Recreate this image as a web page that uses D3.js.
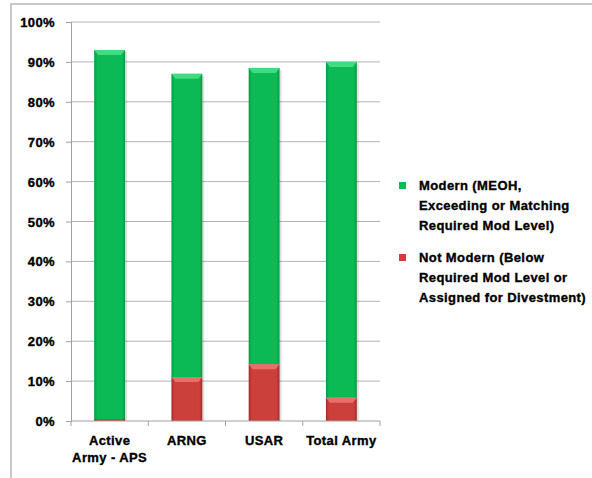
<!DOCTYPE html>
<html><head><meta charset="utf-8">
<script src="https://cdn.jsdelivr.net/npm/d3@7"></script>
<style>
body{margin:0;background:#fff;}
text{font-family:"Liberation Sans","Arial",sans-serif;font-weight:bold;fill:#000;stroke:#000;stroke-width:0.35px;letter-spacing:0.4px;}
</style></head>
<body><svg id="c" width="592" height="478"></svg>
<script>
const categories = ["Active Army - APS", "ARNG", "USAR", "Total Army"];
const categoryLines = [["Active", "Army - APS"], ["ARNG"], ["USAR"], ["Total Army"]];
const notModern = [0.5, 11, 14.2, 5.8];
const modern = [92.5, 76, 74.3, 84.2];
const yTicks = [0, 10, 20, 30, 40, 50, 60, 70, 80, 90, 100];
const seriesNames = ["Modern (MEOH, Exceeding or Matching Required Mod Level)", "Not Modern (Below Required Mod Level or Assigned for Divestment)"];
const legendLines = [["Modern (MEOH,", "Exceeding or Matching", "Required Mod Level)"], ["Not Modern (Below", "Required Mod Level or", "Assigned for Divestment)"]];

const svg = d3.select("#c");
// chart frame
svg.append("path").attr("d","M11,478 V4 H592").attr("fill","none").attr("stroke","#c8c8c8").attr("stroke-width",2);

const x = d3.scaleBand().domain(categories).range([71, 380]).paddingInner(0.6).paddingOuter(0.3);
const band = d3.scaleBand().domain(categories).range([71, 380]);
const y = d3.scaleLinear().domain([0, 100]).range([421, 22]);

// gridlines
svg.append("g").selectAll("line").data(yTicks.filter(d=>d>0)).join("line")
  .attr("x1",71).attr("x2",380).attr("y1",d=>y(d)).attr("y2",d=>y(d))
  .attr("stroke","#b4b4b4").attr("stroke-width",1);

const yAxis = svg.append("g").attr("transform","translate(71,0)")
  .call(d3.axisLeft(y).tickValues(yTicks).tickFormat(d=>d+"%").tickSize(5).tickPadding(11));
yAxis.select(".domain").attr("stroke","#a0a0a0");
yAxis.selectAll(".tick line").attr("stroke","#a0a0a0");
yAxis.selectAll("text").style("font-size","13px").attr("dy","0.35em").attr("font-family",null);

// defs gradients
const defs = svg.append("defs");
function grad(id, edge, mid){
  const g = defs.append("linearGradient").attr("id",id).attr("x1","0").attr("x2","1").attr("y1","0").attr("y2","0");
  g.append("stop").attr("offset","0").attr("stop-color",edge);
  g.append("stop").attr("offset","0.1").attr("stop-color",mid);
  g.append("stop").attr("offset","0.9").attr("stop-color",mid);
  g.append("stop").attr("offset","1").attr("stop-color",edge);
}
grad("gGreen","#079a45","#0bba55");
grad("gRed","#a52a28","#cc403c");

const stackData = categories.map((c,i)=>({c, nm:notModern[i], m:modern[i]}));
const segs = [];
stackData.forEach(d=>{
  segs.push({c:d.c, y0:0, y1:d.nm, fill:"url(#gRed)", hi:"#e8706a"});
  segs.push({c:d.c, y0:d.nm, y1:d.nm+d.m, fill:"url(#gGreen)", hi:"#3fdc82"});
});
const bars = svg.append("g");
bars.selectAll("rect").data(segs).join("rect")
  .attr("x",d=>x(d.c)).attr("width",x.bandwidth())
  .attr("y",d=>y(d.y1)).attr("height",d=>y(d.y0)-y(d.y1))
  .attr("fill",d=>d.fill);
// top bevel highlight
bars.selectAll("path.hi").data(segs.filter(d=>y(d.y0)-y(d.y1)>6)).join("path").attr("class","hi")
  .attr("d",d=>{const x0=x(d.c), w=x.bandwidth(), t=y(d.y1), h=5;
    return `M${x0},${t} H${x0+w} L${x0+w-4},${t+h} H${x0+4} Z`;})
  .attr("fill",d=>d.hi);
// shadow at right
bars.selectAll("rect.sh").data(stackData).join("rect").attr("class","sh")
  .attr("x",d=>x(d.c)+x.bandwidth()).attr("width",2)
  .attr("y",d=>y(d.nm+d.m)+2).attr("height",d=>y(0)-y(d.nm+d.m)-2)
  .attr("fill","#000").attr("opacity",0.12);

// x axis
const xg = svg.append("g");
xg.append("line").attr("x1",71).attr("x2",380).attr("y1",421).attr("y2",421).attr("stroke","#a0a0a0");
const bounds = categories.map(c=>band(c)).concat([380]);
xg.selectAll("line.t").data(bounds).join("line").attr("class","t")
  .attr("x1",d=>d).attr("x2",d=>d).attr("y1",421).attr("y2",426).attr("stroke","#a0a0a0");
xg.selectAll("text").data(categories).join("text")
  .attr("x",d=>band(d)+band.bandwidth()/2).attr("y",445)
  .attr("text-anchor","middle").style("font-size","13px")
  .each(function(d,i){
    const t=d3.select(this);
    categoryLines[i].forEach((l,j)=>t.append("tspan").attr("x",band(d)+band.bandwidth()/2).attr("dy",j?17:0).text(l));
  });

// legend
const leg = svg.append("g");
const legColors = ["#0bba55","#cc403c"];
const legY = [185, 257];
legendLines.forEach((lines,i)=>{
  leg.append("rect").attr("x",399).attr("y",legY[i]-3).attr("width",7).attr("height",7).attr("fill",legColors[i]);
  const t = leg.append("text").attr("x",419).attr("y",legY[i]+5).style("font-size","13px");
  lines.forEach((l,j)=>t.append("tspan").attr("x",419).attr("dy",j?20:0).text(l));
});
</script></body></html>
